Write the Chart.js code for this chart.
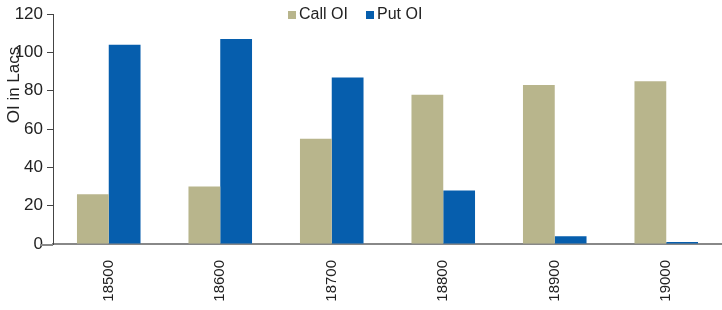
<!DOCTYPE html>
<html>
<head>
<meta charset="utf-8">
<script src="https://cdn.jsdelivr.net/npm/chart.js@4"></script>
<style>
  html, body { margin: 0; padding: 0; background: #fff; }
  #wrap { width: 722px; height: 310px; }
</style>
</head>
<body>
<div id="wrap"><canvas id="myChart" width="722" height="310"></canvas></div>
<script>
// strikes and open interest (lacs)
var strikes = ['18500', '18600', '18700', '18800', '18900', '19000'];
var callOI = [26, 30, 55, 78, 83, 85];
var putOI = [104, 107, 87, 28, 4, 1];
var yTicks = [0, 20, 40, 60, 80, 100, 120];

var callColor = '#B8B58C';
var putColor = '#065EAD';
var font = '"Liberation Sans", Arial, sans-serif';

// legend and axis title sit on top of the plot, so draw them by hand
var overlay = {
  id: 'overlay',
  afterDraw: function(chart) {
    var ctx = chart.ctx;
    ctx.save();
    ctx.font = '16px ' + font;
    ctx.textBaseline = 'middle';
    // legend
    var items = [['Call OI', callColor, 288], ['Put OI', putColor, 366]];
    items.forEach(function(it) {
      ctx.fillStyle = it[1];
      ctx.fillRect(it[2], 11, 8, 8);
      ctx.fillStyle = '#222';
      ctx.textAlign = 'left';
      ctx.fillText(it[0], it[2] + 11, 15);
    });
    // y title, overlapping the tick labels like the original
    ctx.font = '17px ' + font;
    ctx.translate(14, 85);
    ctx.rotate(-Math.PI / 2);
    ctx.textAlign = 'center';
    ctx.fillText('OI in Lacs', 0, 0);
    ctx.restore();
    // x axis line runs a bit past the y axis
    var area = chart.chartArea;
    ctx.save();
    ctx.strokeStyle = '#888';
    ctx.lineWidth = 2;
    ctx.beginPath();
    ctx.moveTo(40, area.bottom + 1);
    ctx.lineTo(area.left, area.bottom + 1);
    ctx.stroke();
    ctx.restore();
  }
};

var ctx = document.getElementById('myChart').getContext('2d');
var chart = new Chart(ctx, {
  type: 'bar',
  data: {
    labels: strikes,
    datasets: [{
      label: 'Call OI',
      data: callOI,
      backgroundColor: callColor,
      barPercentage: 1.0,
      categoryPercentage: 0.57
    }, {
      label: 'Put OI',
      data: putOI,
      backgroundColor: putColor,
      barPercentage: 1.0,
      categoryPercentage: 0.57
    }]
  },
  options: {
    responsive: false,
    animation: false,
    layout: { padding: { top: 11, right: 0, left: 0, bottom: 0 } },
    plugins: {
      legend: { display: false },
      tooltip: { enabled: false }
    },
    scales: {
      x: {
        grid: { display: false },
        border: { display: true, color: '#888', width: 2 },
        ticks: {
          color: '#222',
          font: { family: font, size: 15 },
          minRotation: 90,
          maxRotation: 90,
          padding: 8
        },
        afterFit: function(scale) { scale.height = 66; }
      },
      y: {
        min: 0,
        max: 120,
        afterBuildTicks: function(scale) {
          scale.ticks = yTicks.map(function(v) { return { value: v }; });
        },
        grid: { drawOnChartArea: false, drawTicks: true, tickLength: 6, color: '#444' },
        border: { display: true, color: '#444', width: 1 },
        ticks: {
          color: '#222',
          font: { family: font, size: 17 },
          padding: 4
        },
        afterFit: function(scale) { scale.width = 53; }
      }
    }
  },
  plugins: [overlay]
});
</script>
</body>
</html>
